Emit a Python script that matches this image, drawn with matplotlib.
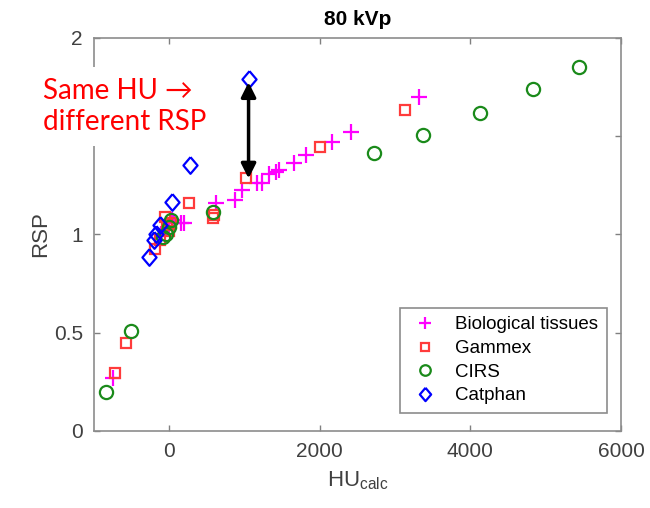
import matplotlib
matplotlib.use("Agg")
import matplotlib.pyplot as plt

plt.rcParams['font.family'] = ['Liberation Sans', 'DejaVu Sans']
plt.rcParams['mathtext.fontset'] = 'custom'
plt.rcParams['mathtext.rm'] = 'Liberation Sans'

# data (HU_calc, RSP)
bio_hu = [-750, -110, -60, 0, 30, 60, 150, 190, 627, 867, 960, 1160, 1227,
          1320, 1413, 1453, 1653, 1813, 2160, 2413, 3320]
bio_rsp = [0.27, 1.0, 1.03, 1.045, 1.075, 1.06, 1.06, 1.06, 1.16, 1.175, 1.226,
           1.26, 1.26, 1.31, 1.318, 1.328, 1.364, 1.405, 1.47, 1.52, 1.70]

gammex_hu = [-720, -575, -190, -120, -60, -30, 0, 20, 260, 580, 600, 1013,
             2000, 3130]
gammex_rsp = [0.295, 0.45, 0.925, 0.97, 1.09, 1.05, 1.02, 1.06, 1.16, 1.085,
              1.10, 1.285, 1.445, 1.635]

cirs_hu = [-840, -507, -80, -40, 0, 27, 587, 2720, 3373, 4133, 4827, 5440]
cirs_rsp = [0.198, 0.509, 0.985, 1.0, 1.04, 1.074, 1.115, 1.415, 1.506, 1.62,
            1.74, 1.85]

catphan_hu = [-267, -200, -170, -120, 40, 280, 1053]
catphan_rsp = [0.885, 0.97, 1.0, 1.05, 1.165, 1.355, 1.79]

# slightly tall rhombus, like the MATLAB diamond
diamond = [(0, 1), (0.85, 0), (0, -1), (-0.85, 0), (0, 1)]

fig = plt.figure(figsize=(6.5, 5.08), dpi=100)
ax = fig.add_axes([0.1446, 0.1516, 0.8108, 0.7736])

mk = dict(linestyle='none', markerfacecolor='none', markeredgewidth=1.6)
ax.plot(bio_hu, bio_rsp, marker='+', color='#ff00ff', markersize=11,
        label='Biological tissues', **mk)
ax.plot(gammex_hu, gammex_rsp, marker='s', color='#ff3b3b', markersize=7.5,
        label='Gammex', **mk)
ax.plot(cirs_hu, cirs_rsp, marker='o', color='#1a8a1a', markersize=9.5,
        label='CIRS', **mk)
ax.plot(catphan_hu, catphan_rsp, marker=diamond, color='#0000ff',
        markersize=12, label='Catphan', **mk)

ax.set_xlim(-1000, 6000)
ax.set_ylim(0, 2)
ax.set_xticks([0, 2000, 4000, 6000])
ax.set_yticks([0, 0.5, 1, 1.5, 2])
# the 1.5 label is hidden behind the annotation box in the reference
ax.set_yticklabels(['0', '0.5', '1', '', '2'])
ax.tick_params(direction='in', length=4, width=1, colors='#808080',
               labelcolor='#404040', labelsize=15, top=True, right=True, pad=8)
for s in ax.spines.values():
    s.set_color('#8c8c8c')
    s.set_linewidth(1.2)

ax.set_title('80 kVp', fontsize=15, fontweight='bold', pad=9)
ax.set_xlabel(r'HU$_{\mathrm{calc}}$', fontsize=16, color='#404040', labelpad=6)
ax.set_ylabel('RSP', fontsize=16, color='#404040', labelpad=2)

leg = ax.legend(loc='lower right', bbox_to_anchor=(0.973, 0.046),
                borderaxespad=0, fontsize=13.5, fancybox=False,
                edgecolor='#8c8c8c', framealpha=1, handletextpad=0.7,
                labelspacing=0.35, handlelength=1.8, borderpad=0.45,
                markerscale=0.8)
leg.get_frame().set_linewidth(1.2)

# double-headed arrow: same HU, different RSP
ax.annotate('', xy=(1053, 1.775), xytext=(1053, 1.285),
            arrowprops=dict(arrowstyle='<|-|>', color='black', lw=2.5,
                            mutation_scale=22, shrinkA=0, shrinkB=0))

fig.text(0.066, 0.79, 'Same HU \u2192\ndifferent RSP', color='#ff0000',
         fontsize=20, family=['Lato', 'DejaVu Sans'], linespacing=1.25,
         va='center', ha='left', zorder=10,
         bbox=dict(facecolor='white', edgecolor='none', pad=8))

fig.savefig('out.png', dpi=100)
